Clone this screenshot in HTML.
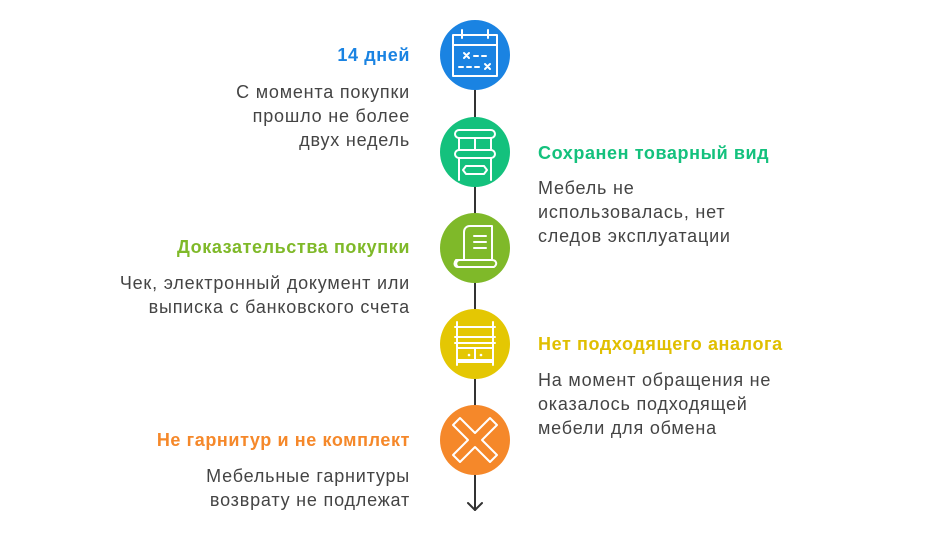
<!DOCTYPE html>
<html><head><meta charset="utf-8"><style>
body{margin:0;width:950px;height:550px;background:#fff;font-family:"Liberation Sans",sans-serif;position:relative;overflow:hidden}
.t{position:absolute;font-weight:bold;font-size:18px;letter-spacing:0.6px;white-space:nowrap}
.b{position:absolute;font-size:18px;letter-spacing:0.8px;line-height:24px;color:#444;white-space:nowrap}
.l{right:540px;text-align:right}
.r{left:538px}
</style></head><body>
<svg width="950" height="550" style="position:absolute;left:0;top:0" fill="none" stroke-linecap="round" stroke-linejoin="round">
<g stroke="#333" stroke-width="2">
<line x1="475" y1="90" x2="475" y2="117"/>
<line x1="475" y1="187" x2="475" y2="213"/>
<line x1="475" y1="283" x2="475" y2="309"/>
<line x1="475" y1="379" x2="475" y2="405"/>
<line x1="475" y1="475" x2="475" y2="510"/>
<polyline points="468,503 475,510 482,503"/>
</g>
<circle cx="475" cy="55" r="35" fill="#1a83e2"/>
<circle cx="475" cy="152" r="35" fill="#14c17d"/>
<circle cx="475" cy="248" r="35" fill="#7fb929"/>
<circle cx="475" cy="344" r="35" fill="#e4c703"/>
<circle cx="475" cy="440" r="35" fill="#f5882a"/>
<g stroke="#fff" stroke-width="2">
<rect x="453" y="35" width="44" height="41"/><line x1="453" y1="45" x2="497" y2="45"/>
<line x1="462" y1="30" x2="462" y2="38"/><line x1="488" y1="30" x2="488" y2="38"/>
<path d="M464 53l5 5M469 53l-5 5M474 56h4M482 56h4M459 67h4M467 67h4M475 67h4M485 64l5 5M490 64l-5 5"/>
<rect x="455" y="130" width="40" height="8" rx="4"/><rect x="455" y="150" width="40" height="8" rx="4"/>
<path d="M459 138v12M491 138v12M475 138v12M459 158v22M491 158v22"/>
<path d="M466 166h18l3 4-3 4h-18l-3-4z"/>
<path d="M470 226h22v34M470 226c-4 0-6 3-6 6v28M474 236h12M474 242h12M474 248h12M460 260h32c4 0 6 4 2 7h-36c-3 0-5-3-2-7zM460 260c-4 0-5 5-2 7"/>
<path d="M457 322v38M493 322v38M455 327h40M455 337h40M455 343h40M457 348h36M457 360h36"/>
<rect x="457" y="348" width="36" height="14"/><line x1="475" y1="348" x2="475" y2="362"/>
<path d="M457 362v3M493 362v3"/>
<path d="M460 418l15 15 15-15 7 7-15 15 15 15-7 7-15-15-15 15-7-7 15-15-15-15z"/>
</g>
<g fill="#fff"><circle cx="469" cy="355" r="1.3"/><circle cx="481" cy="355" r="1.3"/></g>
</svg>
<div class="t l" style="top:45px;color:#1a83e2">14 дней</div>
<div class="b l" style="top:80px">С момента покупки<br>прошло не более<br>двух недель</div>
<div class="t r" style="top:143px;color:#14c17d">Сохранен товарный вид</div>
<div class="b r" style="top:176px">Мебель не<br>использовалась, нет<br>следов эксплуатации</div>
<div class="t l" style="top:237px;color:#7fb929">Доказательства покупки</div>
<div class="b l" style="top:271px">Чек, электронный документ или<br>выписка с банковского счета</div>
<div class="t r" style="top:334px;color:#e0bf00">Нет подходящего аналога</div>
<div class="b r" style="top:368px">На момент обращения не<br>оказалось подходящей<br>мебели для обмена</div>
<div class="t l" style="top:430px;color:#f5882a">Не гарнитур и не комплект</div>
<div class="b l" style="top:464px">Мебельные гарнитуры<br>возврату не подлежат</div>
</body></html>
